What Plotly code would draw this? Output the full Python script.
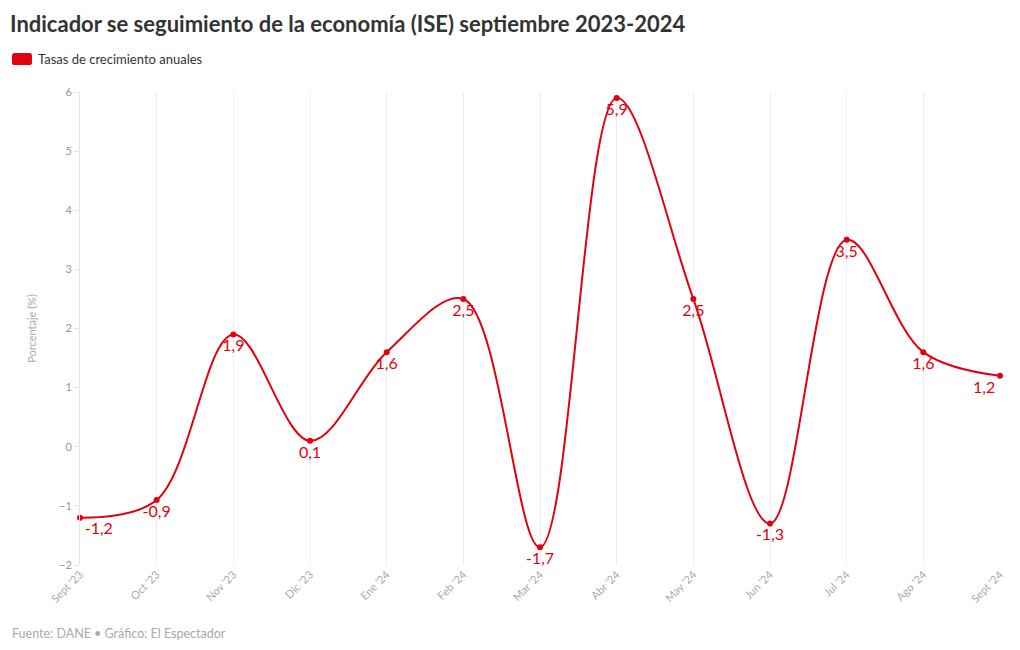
import plotly.graph_objects as go

months = ["Sept '23", "Oct '23", "Nov '23", "Dic '23", "Ene '24", "Feb '24", "Mar '24",
          "Abr '24", "May '24", "Jun '24", "Jul '24", "Ago '24", "Sept '24"]
values = [-1.2, -0.9, 1.9, 0.1, 1.6, 2.5, -1.7, 5.9, 2.5, -1.3, 3.5, 1.6, 1.2]
labels = [f"{v:.1f}".replace(".", ",") for v in values]
positions = ["bottom right"] + ["bottom center"] * 11 + ["bottom left"]

RED = "#e3000f"
FONT = "Lato, 'Noto Sans', sans-serif"

fig = go.Figure()
fig.add_trace(go.Scatter(
    x=list(range(len(months))), y=values,
    mode="lines+markers+text",
    line=dict(color=RED, width=2, shape="spline", smoothing=1),
    marker=dict(color=RED, size=6),
    text=labels, textposition=positions,
    textfont=dict(color=RED, size=16, family=FONT),
    cliponaxis=False, showlegend=False, hoverinfo="x+y",
))

# rounded legend swatch (paper coords)
x0, x1, y0, y1 = -0.0739, -0.0522, 1.057, 1.0825
rx, ry = 0.003, 0.006
swatch = (f"M {x0+rx},{y0} L {x1-rx},{y0} Q {x1},{y0} {x1},{y0+ry} "
          f"L {x1},{y1-ry} Q {x1},{y1} {x1-rx},{y1} L {x0+rx},{y1} "
          f"Q {x0},{y1} {x0},{y1-ry} L {x0},{y0+ry} Q {x0},{y0} {x0+rx},{y0} Z")

fig.update_layout(
    width=1020, height=650,
    margin=dict(l=72, r=28, t=84, b=93, autoexpand=False),
    paper_bgcolor="white", plot_bgcolor="white",
    font=dict(family=FONT, color="#999"),
    title=dict(text="<b>Indicador se seguimiento de la economía (ISE) septiembre 2023-2024</b>",
               x=0.002, xanchor="left", y=0.975, yanchor="middle",
               font=dict(size=22, color="#333", family=FONT)),
    xaxis=dict(
        tickmode="array", tickvals=list(range(len(months))), ticktext=months,
        range=[0, len(months) - 1], tickangle=-45,
        showgrid=True, gridcolor="#eeeeee", gridwidth=1,
        zeroline=False, showline=False,
        tickfont=dict(size=11, color="#aaa"),
    ),
    yaxis=dict(
        range=[-2, 6], dtick=1, showgrid=False, zeroline=False,
        showline=True, linecolor="#e5e5e5", ticks="outside", ticklen=5,
        tickcolor="#e5e5e5", tickfont=dict(size=11, color="#999"),
        title=dict(text="Porcentaje (%)", font=dict(size=11, color="#aaa"), standoff=20),
    ),
    shapes=[dict(type="path", xref="paper", yref="paper", path=swatch,
                 fillcolor=RED, line=dict(width=0), layer="above")],
    annotations=[
        dict(text="Tasas de crecimiento anuales", xref="paper", yref="paper",
             x=-0.0478, y=1.0698, xanchor="left", yanchor="middle", showarrow=False,
             font=dict(size=13, color="#333", family=FONT)),
        dict(text="Fuente: DANE • Gráfico: El Espectador", xref="paper", yref="paper",
             x=-0.0761, y=-0.1438, xanchor="left", yanchor="middle", showarrow=False,
             font=dict(size=12.5, color="#aaa", family=FONT)),
    ],
)

fig.write_html("out.html")
